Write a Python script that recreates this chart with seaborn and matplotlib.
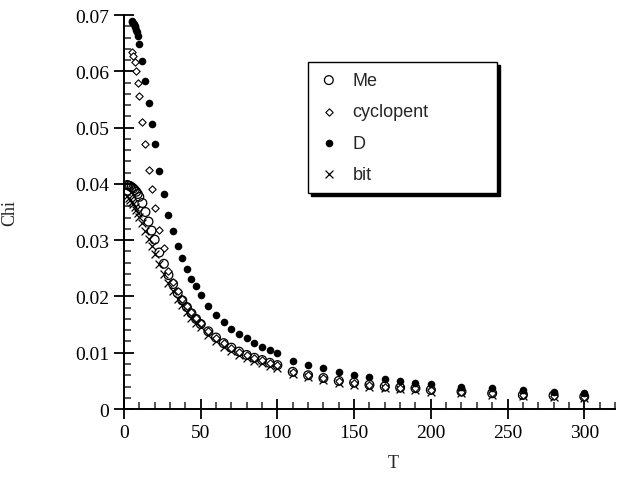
import matplotlib
matplotlib.use("Agg")
import matplotlib.pyplot as plt
import seaborn as sns
from matplotlib.ticker import MultipleLocator, FuncFormatter

# temperature grids
t_me = [2, 3, 4, 5, 6, 7, 8, 9, 10, 12, 14, 16, 18, 20, 23, 26, 29, 32, 35, 38,
        41, 44, 47, 50, 55, 60, 65, 70, 75, 80, 85, 90, 95, 100,
        110, 120, 130, 140, 150, 160, 170, 180, 190, 200, 220, 240, 260, 280, 300]
t_cyc = [5, 6, 7, 8, 9, 10, 12, 14, 16, 18, 20, 23, 26, 29, 32, 35, 38,
         41, 44, 47, 50, 55, 60, 65, 70, 75, 80, 85, 90, 95, 100,
         110, 120, 130, 140, 150, 160, 170, 180, 190, 200, 220, 240, 260, 280, 300]
t_d = [5, 5.5, 6, 6.5, 7, 7.5, 8, 8.5, 9, 10, 12, 14, 16, 18, 20, 23, 26, 29, 32, 35, 38,
       41, 44, 47, 50, 55, 60, 65, 70, 75, 80, 85, 90, 95, 100,
       110, 120, 130, 140, 150, 160, 170, 180, 190, 200, 220, 240, 260, 280, 300]
t_bit = t_me

chi_me = [0.0398, 0.0397, 0.0396, 0.0394, 0.0392, 0.0389, 0.0386, 0.0382, 0.0377,
          0.0366, 0.0350, 0.0333, 0.0317, 0.0301, 0.0278, 0.0258, 0.0238, 0.0222,
          0.0206, 0.0193, 0.0181, 0.0170, 0.0160, 0.0151, 0.0138, 0.0127, 0.0117,
          0.0109, 0.0102, 0.0096, 0.0091, 0.0087, 0.0082, 0.0078,
          0.0066, 0.0060, 0.0055, 0.0050, 0.0047, 0.0043, 0.0040, 0.0038, 0.0037,
          0.0034, 0.0031, 0.0028, 0.0025, 0.0024, 0.0022]
chi_cyc = [0.0635, 0.0628, 0.0616, 0.0600, 0.0580, 0.0556, 0.0510, 0.0470, 0.0425,
           0.0390, 0.0357, 0.0318, 0.0286, 0.0245, 0.0226, 0.0209, 0.0195, 0.0183,
           0.0172, 0.0161, 0.0152, 0.0138, 0.0127, 0.0117, 0.0109, 0.0102, 0.0096,
           0.0091, 0.0087, 0.0082, 0.0078,
           0.0066, 0.0060, 0.0055, 0.0050, 0.0047, 0.0043, 0.0040, 0.0038, 0.0037,
           0.0034, 0.0031, 0.0028, 0.0025, 0.0024, 0.0022]
chi_d = [0.0689, 0.0688, 0.0686, 0.0684, 0.0681, 0.0678, 0.0674, 0.0669, 0.0663,
         0.0648, 0.0618, 0.0583, 0.0544, 0.0506, 0.0471, 0.0423, 0.0382, 0.0345,
         0.0316, 0.0290, 0.0268, 0.0249, 0.0231, 0.0218, 0.0202, 0.0183, 0.0167,
         0.0155, 0.0142, 0.0133, 0.0126, 0.0118, 0.0111, 0.0105, 0.0099,
         0.0086, 0.0079, 0.0072, 0.0065, 0.0060, 0.0057, 0.0053, 0.0050, 0.0047,
         0.0045, 0.0040, 0.0037, 0.0033, 0.0030, 0.0028]
chi_bit = [0.0378, 0.0375, 0.0372, 0.0368, 0.0364, 0.0359, 0.0354, 0.0348, 0.0342,
           0.0330, 0.0316, 0.0302, 0.0289, 0.0276, 0.0258, 0.0240, 0.0224, 0.0209,
           0.0196, 0.0184, 0.0173, 0.0162, 0.0153, 0.0145, 0.0132, 0.0121, 0.0111,
           0.0103, 0.0096, 0.0091, 0.0086, 0.0082, 0.0077, 0.0073,
           0.0062, 0.0056, 0.0051, 0.0046, 0.0043, 0.0040, 0.0037, 0.0035, 0.0034,
           0.0031, 0.0028, 0.0025, 0.0023, 0.0021, 0.0020]

sns.set_style("ticks")
plt.rcParams['font.family'] = ['Liberation Serif', 'DejaVu Serif']

fig = plt.figure(figsize=(6.18, 4.85), dpi=100)
ax = fig.add_axes([0.2006, 0.1546, 0.7944, 0.8124])

sns.scatterplot(x=t_me, y=chi_me, ax=ax, marker='o', s=40, facecolor='none',
                edgecolor='black', linewidth=0.9, label='Me', zorder=3)
sns.scatterplot(x=t_cyc, y=chi_cyc, ax=ax, marker='D', s=14, facecolor='white',
                edgecolor='black', linewidth=0.8, label='cyclopent', zorder=4)
sns.scatterplot(x=t_d, y=chi_d, ax=ax, marker='o', s=30, color='black',
                edgecolor='black', linewidth=0, label='D', zorder=5)
sns.scatterplot(x=t_bit, y=chi_bit, ax=ax, marker='x', s=32, color='black',
                linewidth=0.9, label='bit', zorder=2)

ax.set_xlim(0, 320)
ax.set_ylim(0, 0.07)
ax.xaxis.set_major_locator(MultipleLocator(50))
ax.xaxis.set_minor_locator(MultipleLocator(10))
ax.yaxis.set_major_locator(MultipleLocator(0.01))
ax.yaxis.set_minor_locator(MultipleLocator(0.002))
ax.yaxis.set_major_formatter(FuncFormatter(lambda v, p: '0' if abs(v) < 1e-9 else f'{v:.2f}'))
ax.xaxis.set_major_formatter(FuncFormatter(lambda v, p: f'{v:.0f}'))

ax.tick_params(which='major', direction='inout', length=15, width=1.3,
               labelsize=14, colors='black', pad=3)
ax.tick_params(which='minor', direction='in', length=5, width=1.1)
sns.despine(ax=ax)
for side in ['left', 'bottom']:
    ax.spines[side].set_linewidth(1.4)
    ax.spines[side].set_color('black')

ax.set_xlabel('T', fontsize=13)
ax.set_ylabel('Chi', fontsize=13)
ax.xaxis.set_label_coords(0.548, -0.115)
ax.yaxis.set_label_coords(-0.215, 0.5)

leg = ax.legend(loc='upper left', bbox_to_anchor=(0.375, 0.551, 0.385, 0.33),
                mode='expand', borderaxespad=0, frameon=True, fancybox=False,
                shadow={'color': 'black', 'alpha': 1}, edgecolor='black',
                framealpha=1, prop={'family': 'Liberation Sans', 'size': 13},
                labelspacing=0.8, handletextpad=0.7, borderpad=0.55,
                handlelength=1.2)
leg.get_frame().set_linewidth(1.0)

fig.savefig('out.png', dpi=100)
